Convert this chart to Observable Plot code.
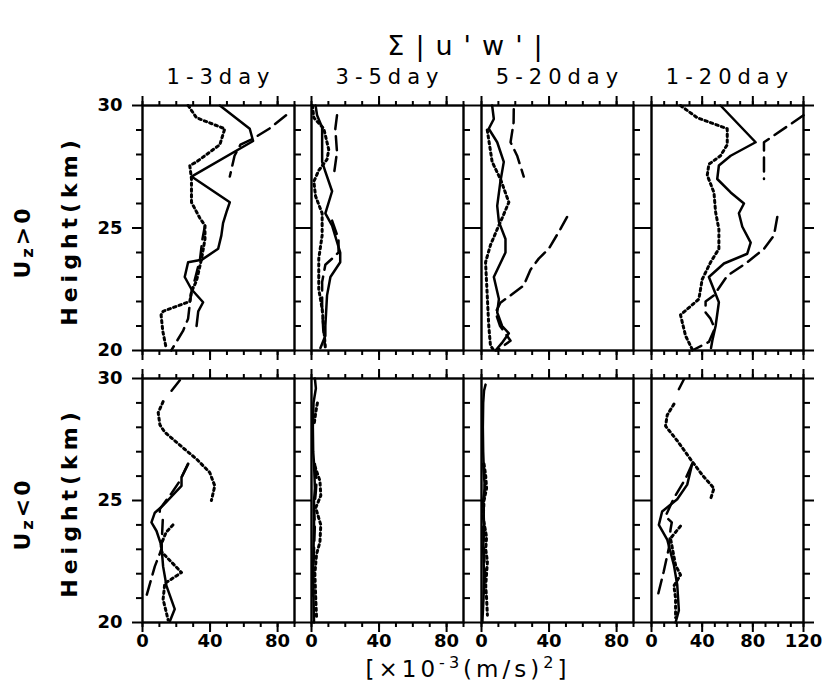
<!DOCTYPE html>
<html><head><meta charset="utf-8">
<script src="https://cdn.jsdelivr.net/npm/d3@7"></script>
<script src="https://cdn.jsdelivr.net/npm/@observablehq/plot@0.6"></script>
<style>
body{margin:0;background:#fff;}
#chart{position:relative;width:824px;height:690px;overflow:hidden;font-family:"DejaVu Sans",sans-serif;color:#000;background:#fff;}
#chart svg{position:absolute;}
.lbl{position:absolute;white-space:nowrap;transform:translate(-50%,-50%);line-height:1;}
.lbl sup{line-height:0;font-size:0.7em;vertical-align:0.55em;}
.lbl sub{line-height:0;font-size:0.75em;vertical-align:-0.2em;}
.rot{transform:translate(-50%,-50%) rotate(-90deg);}
</style></head><body><div id="chart"></div>
<script>
// ---------- labels ----------
const titleText = "Σ|u'w'|";
const periods = ["1-3day", "3-5day", "5-20day", "1-20day"];
const rowLabels = ["U<sub>z</sub>&gt;0", "U<sub>z</sub>&lt;0"];
const yLabel = "Height(km)";
const xLabel = "[×10<sup>-3</sup>(m/s)<sup>2</sup>]";
const xMax = [90, 90, 90, 120];
const heightTicks = [20, 25, 30];
const heightMinor = [21, 22, 23, 24, 26, 27, 28, 29];

// ---------- data: [height (km), value] ; null = gap ----------
// Uz>0
const up13Solid  = [[30,45.8],[29.05,63.5],[28.55,65.5],[27.1,29],[26.05,51.7],[25.65,49.7],[25.2,47.7],[24.7,46.7],[24.15,44.8],[23.7,35],[23.6,27],[23.0,25],[22.5,29],[21.97,35.9],[21.6,33],[21.0,32]];
const up13Dotted = [[30,27],[29.5,32],[29.05,48.7],[28.4,45.8],[27.7,32],[27.55,28],[27.0,29],[26.05,29],[25.4,34],[25.1,37],[24.55,37],[23.75,35],[22.85,32],[22.4,29],[22.0,28],[21.6,12.2],[21.45,11],[20.8,12],[20.1,14]];
const up13Dashed = [[29.6,85],[29.05,75],[28.65,65.5],[28.4,58],[27.95,54.5],[27.1,51.7],null,[25.1,37],[24.55,35.5],[23.7,34],[22.9,31],[22.4,29],[21.9,28],[21.3,27],[20.8,24],[20.0,17]];
const up35Solid  = [[30,2.4],[29.6,3.3],[29.1,6.3],[27.7,6.3],[27.3,8.2],[26.5,12.2],[25.6,8.2],[25.1,12.2],[24.0,17],[23.6,17],[23.0,11.2],[22.25,9.2],[21.0,8.2],[20.6,8.2],[20.1,5.3]];
const up35Dotted = [[30,0.5],[29.5,1.4],[29.05,7.3],[28.2,10.2],[27.8,9.2],[27.35,4.3],[26.9,1.4],[26.3,2.4],[25.6,6.3],[24.7,6.3],[23.75,4.3],[22.5,4.3],[21.7,6.3],[20.9,7.3],[20.1,8.2]];
const up35Dashed = [[29.6,15.1],[29.05,14.1],[28.1,15.1],[27.1,13.1],null,[25.3,12.2],[24.55,16],[24.0,16],[23.75,12.2],[23.5,8.2],[22.8,6.3],[21.7,6.3],[20.8,7],[20.2,8]];
const up520Solid  = [[30,6.3],[29.45,7.3],[29.05,4.3],[28.5,9.3],[27.7,13.2],[26.9,11.2],[25.9,9.3],[25.25,10.3],[24.55,14.2],[24.0,14.2],[23.0,7.3],[22.1,10.3],[21.55,9.3],[21.0,12.2],[20.7,16.2],[20.3,12],[20.0,8.3]];
const up520Dotted = [[29.0,3.4],[27.7,6.3],[27.0,11.2],[26.05,16.2],[25.4,12.2],[24.95,9.3],[24.3,5.3],[23.6,2.4],[22.25,3.4],[21.0,4.3],[20.2,5.3],[20.0,7.3]];
const up520Dashed = [[29.85,19.1],[29.3,19],[28.5,17.2],[27.95,21.1],[27.1,25],null,[25.45,50.7],[24.95,46.7],[24.15,39.8],[23.75,33.9],[23.3,29],[22.65,25],[22.25,17.2],[21.95,11.2],[21.55,8.3],[21.0,11],[20.4,17.2],[20.0,9.3]];
const up120Solid  = [[30,54.5],[28.5,82.2],[27.95,62.5],[27.55,53.2],[27.0,51.9],[26.45,62.5],[26.0,73],[25.6,69],[25.05,71.7],[24.4,78.3],[23.95,75.6],[23.55,57.2],[23.0,45.3],[21.97,53.2],[21.0,50.6],[20.4,48],[20.1,47]];
const up120Dotted = [[30,22.9],[29.5,36.1],[29.05,59.8],[28.4,59.8],[27.95,54.5],[27.6,45.3],[27.15,44],[26.45,49.3],[25.65,50.6],[24.95,53.2],[24.15,53.2],[23.6,46.6],[22.9,40],[22.1,37.4],[21.45,22.9],[20.6,26.9],[20.05,32.1]];
const up120Dashed = [[29.6,120],[28.5,88.8],[27.0,88.8],null,[25.45,99.3],[24.7,96.7],[24.15,88.8],[23.55,74.3],[23.05,59.8],[22.25,49.3],[22.0,42.7],[21.55,42.7],[21.3,46.6],[20.9,50],[20.35,45.3],[20.0,32.1]];
// Uz<0
const dn13Solid  = [[26.5,27],[25.95,23.1],[25.6,23.1],[24.8,12.2],[24.5,7.3],[24.1,5.3],[23.75,8.3],[23.15,11.2],[22.3,12.2],[21.5,14.2],[20.55,19.1],[20.05,16.2]];
const dn13Dotted = [[29.05,12.2],[28.6,9.3],[28.1,10.3],[27.8,13.2],[27.1,25],[26.7,32],[26.15,39.8],[25.6,42.8],[25.0,40.8],null,[24.0,18],[23.7,14],[23.2,11],[22.9,11.2],[22.05,23.1],[21.6,13.2],[20.95,12.2],[20.1,15.2]];
const dn13Dashed = [[29.93,22.1],[29.5,17.2],null,[26.5,27],[25.8,22.1],[25.3,17.2],[24.65,10.3],[24.3,10],null,[24.2,12],[23.0,11.2],[22.3,7.3],[21.1,2.4]];
const dn35Solid  = [[30,2],[29.6,2.6],[29,1.2],[28,0.8],[27,1],[26.5,1.5],[25.5,2],[25,1.5],[24,1.5],[23,1.2],[22,1],[21,1.2],[20,1.5]];
const dn35Dotted = [[29.0,3.5],[28.6,2.5],[28.1,1.5],null,[26.4,2],[25.8,5],[25.2,5.5],[24.7,2.5],[24.0,5.5],[23.3,5],[22.8,3],[22.0,2],[21.0,2.5],[20.2,3]];
const dn35Dashed = [[26.5,2],[25.8,3],[25.3,2.5],[24.6,1.5],[24.0,2],[23.0,1.5],[22.0,1],[21.1,1]];
const dn520Solid  = [[29.75,2.4],[29.5,1.5],[29,1],[28,0.8],[27,1],[26,1.5],[25.5,2],[25,1],[24,1.5],[23,1],[22,1.5],[21,1.2],[20,0.5]];
const dn520Dotted = [[26.5,1.5],[26,2.5],[25.5,3],[25,1.5],[24.3,1],[23.5,3],[23,2.5],[22.5,3.5],[22,3],[21.5,2.5],[21,3],[20.3,3.5]];
const dn520Dashed = [[26.5,1],[25.8,2],[25,1.5],[24,1],[23,1.5],[22,2],[21.2,1.5]];
const dn120Solid  = [[26.5,32.1],[25.65,28.2],[25.05,20.3],[24.55,8.4],[24.0,5.8],[23.4,12.4],[22.35,17.7],[21.55,20.3],[20.5,21.6],[20.0,19]];
const dn120Dotted = [[28.95,17.7],[28.5,12.4],[28.05,11.1],[27.45,20.3],[26.6,32.1],[26.05,40],[25.5,49.3],[25.05,46.6],null,[23.95,22.9],[23.45,15],[22.35,19],[21.95,22.9],[21.5,17.7],[21.0,19],[20.2,19]];
const dn120Dashed = [[29.97,25.6],[29.56,21.6],null,[26.5,32.1],[25.9,26.9],[25.1,17.7],[24.35,11],[24.1,16],[23.8,15],[23.05,13.7],[22.1,9.7],[21.0,4.5]];

const panels = [
  [[up13Solid, up13Dotted, up13Dashed],[up35Solid, up35Dotted, up35Dashed],[up520Solid, up520Dotted, up520Dashed],[up120Solid, up120Dotted, up120Dashed]],
  [[dn13Solid, dn13Dotted, dn13Dashed],[dn35Solid, dn35Dotted, dn35Dashed],[dn520Solid, dn520Dotted, dn520Dashed],[dn120Solid, dn120Dotted, dn120Dashed]]
];

// ---------- layout ----------
const colLeft = [142, 311, 481, 651];
const panelW = 152;
const rowTop = [105, 378];
const rowH = [245, 244];
const gapX = 17;

const lineStyles = [
  {strokeWidth: 2.5},
  {strokeWidth: 3, strokeDasharray: "2.4,3.4"},
  {strokeWidth: 2.5, strokeDasharray: "14,7"}
];

const chart = document.getElementById("chart");
const toRows = arr => arr.map(p => p ? {h: p[0], v: p[1]} : {h: NaN, v: NaN});

for (let r = 0; r < 2; r++) {
  for (let c = 0; c < 4; c++) {
    const mL = 40, mR = 40, mT = 20, mB = 40;
    const xmax = xMax[c];
    const minor = d3.range(0, xmax + 1, 10);
    const major = d3.range(0, xmax + 1, 40);
    const blank = () => "";
    const marks = [
      Plot.axisX({anchor: "top", ticks: minor, tickSize: 5, tickFormat: blank, label: null, strokeWidth: 2}),
      Plot.axisX({anchor: "top", ticks: major, tickSize: 10, tickFormat: blank, label: null, strokeWidth: 2}),
      Plot.axisX({anchor: "bottom", ticks: minor, tickSize: 5, tickFormat: blank, label: null, strokeWidth: 2}),
      Plot.axisX({anchor: "bottom", ticks: major, tickSize: 10, tickPadding: 2,
        tickFormat: r === 1 ? (d => String(d)) : blank, label: null, strokeWidth: 2}),
      Plot.axisY({anchor: "right", ticks: heightMinor, tickSize: 6, tickFormat: blank, label: null, strokeWidth: 2}),
      Plot.axisY({anchor: "right", ticks: heightTicks, tickSize: c < 3 ? gapX : 10, tickFormat: blank, label: null, strokeWidth: 2}),
    ];
    if (c === 0) {
      marks.push(
        Plot.axisY({anchor: "left", ticks: heightMinor, tickSize: 6, tickFormat: blank, label: null, strokeWidth: 2}),
        Plot.axisY({anchor: "left", ticks: heightTicks, tickSize: 10, tickPadding: 10, tickFormat: d => String(d), label: null, strokeWidth: 2})
      );
    }
    marks.push(Plot.frame({stroke: "black", strokeWidth: 2.4}));
    panels[r][c].forEach((s, i) => {
      marks.push(Plot.line(toRows(s), {x: "v", y: "h", stroke: "black", ...lineStyles[i]}));
    });
    const svg = Plot.plot({
      width: panelW + mL + mR,
      height: rowH[r] + mT + mB,
      marginLeft: mL, marginRight: mR, marginTop: mT, marginBottom: mB,
      x: {domain: [0, xmax]},
      y: {domain: [20, 30]},
      style: {background: "transparent", overflow: "visible", fontFamily: "DejaVu Sans", fontSize: "18px", fontWeight: "bold", color: "black"},
      marks
    });
    svg.style.left = (colLeft[c] - mL) + "px";
    svg.style.top = (rowTop[r] - mT) + "px";
    chart.appendChild(svg);
  }
}

// ---------- text ----------
function addLabel(html, x, y, css, rotate) {
  const d = document.createElement("div");
  d.className = "lbl" + (rotate ? " rot" : "");
  d.innerHTML = html;
  d.style.left = x + "px";
  d.style.top = y + "px";
  Object.assign(d.style, css);
  chart.appendChild(d);
  return d;
}
addLabel(titleText, 465, 45, {fontSize: "27px", letterSpacing: "11px", paddingLeft: "11px"});
periods.forEach((p, i) => addLabel(p, colLeft[i] + panelW / 2, 77, {fontSize: "21px", letterSpacing: "6px", paddingLeft: "6px"}));
addLabel(xLabel, 466, 669, {fontSize: "23px", letterSpacing: "4px", paddingLeft: "4px"});
rowLabels.forEach((t, r) => {
  const cy = rowTop[r] + rowH[r] / 2;
  addLabel(t, 23, cy + 14, {fontSize: "22px", fontWeight: "bold", letterSpacing: "3px"}, true);
  addLabel(yLabel, 70, cy + 5, {fontSize: "22px", fontWeight: "bold", letterSpacing: "5px", paddingLeft: "5px"}, true);
});
</script>
</body></html>
